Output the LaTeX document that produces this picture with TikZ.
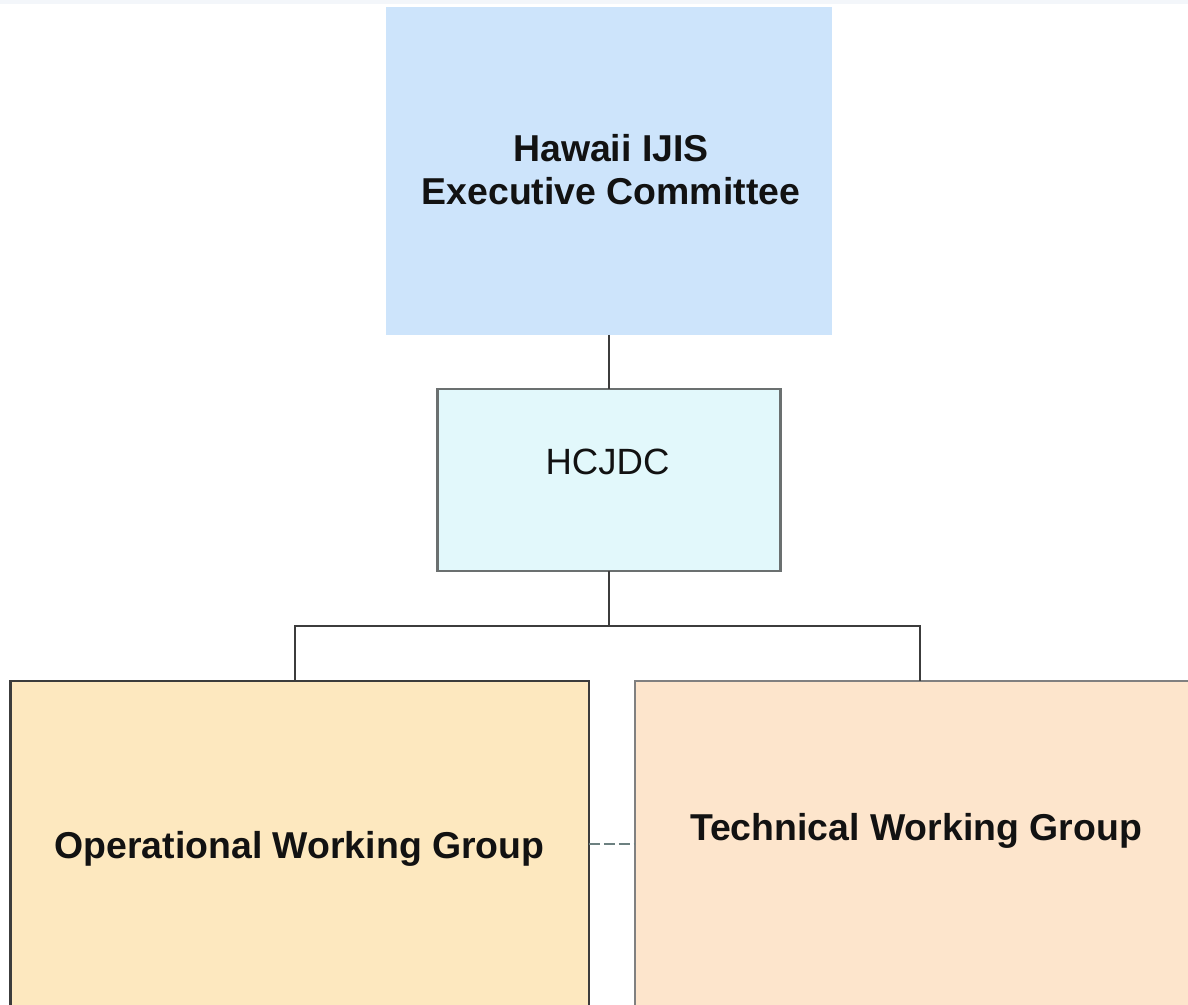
\documentclass[tikz,border=0pt]{standalone}
\usepackage{fontspec}
\setmainfont{Liberation Sans}
\usetikzlibrary{positioning}

\definecolor{execblue}{HTML}{CDE4FB}
\definecolor{hcjdccyan}{HTML}{E2F8FB}
\definecolor{opsyellow}{HTML}{FDE8BF}
\definecolor{techpeach}{HTML}{FDE5CC}
\definecolor{wiregray}{HTML}{3C3C3C}
\definecolor{edgegray}{HTML}{6B7070}
\definecolor{bandgray}{HTML}{F3F6FA}

\begin{document}
\begin{tikzpicture}[
        x=0.02cm, y=-0.02cm,
        board/.style = {inner sep=0pt, outer sep=0pt, line width=1.3pt},
        wire/.style = {draw=wiregray, line width=1.2pt},
        liaison/.style = {draw=gray!85!teal, line width=1.3pt, dash pattern=on 6.2pt off 2.3pt},
        boxtext/.style = {inner sep=0pt, anchor=base, text=black!93,
            font=\bfseries\fontsize{21.3}{24.4}\selectfont, align=center}
        ]
        \useasboundingbox (0,0) rectangle (1188,1005);
        \clip (0,0) rectangle (1188,1005);
        \fill[bandgray] (0,0) rectangle (1188,4);

        % boxes
        \node[board, fill=execblue, minimum width=8.92cm, minimum height=6.56cm] (exec) at (609,171) {};
        \node[board, draw=edgegray, fill=hcjdccyan, minimum width=6.86cm, minimum height=3.64cm] (hcjdc) at (609,480) {};
        \node[board, draw=wiregray, fill=opsyellow, minimum width=11.57cm, minimum height=7.18cm] (ops) at (299.75,860.5) {};
        \node[board, draw=gray, fill=techpeach, minimum width=12.1cm, minimum height=7.18cm] (tech) at (937.5,860.5) {};

        % texts
        \node[boxtext] (execname) at (611,204) {Hawaii IJIS\\Executive Committee};
        \node[inner sep=0pt, anchor=base, text=black!93, font=\fontsize{20.8}{24}\selectfont] (hcjdcname) at (607.5,474) {HCJDC};
        \node[boxtext] (opsname) at (299.5,858) {Operational Working Group};
        \node[boxtext] (techname) at (916,840) {Technical Working Group};

        % connectors
        \coordinate (fork) at (609,626);
        \coordinate (opsdrop) at (295,681);
        \coordinate (techdrop) at (920,681);
        \coordinate (liaisonmid) at (612,844);

        \draw[wire] (exec.south) -- (hcjdc.north);
        \draw[wire] (hcjdc.south) -- (hcjdc.south |- fork);
        \draw[wire] (opsdrop) |- (fork) -| (techdrop);
        \draw[liaison] (ops.east |- liaisonmid) -- (tech.west |- liaisonmid);

    \end{tikzpicture}
\end{document}
